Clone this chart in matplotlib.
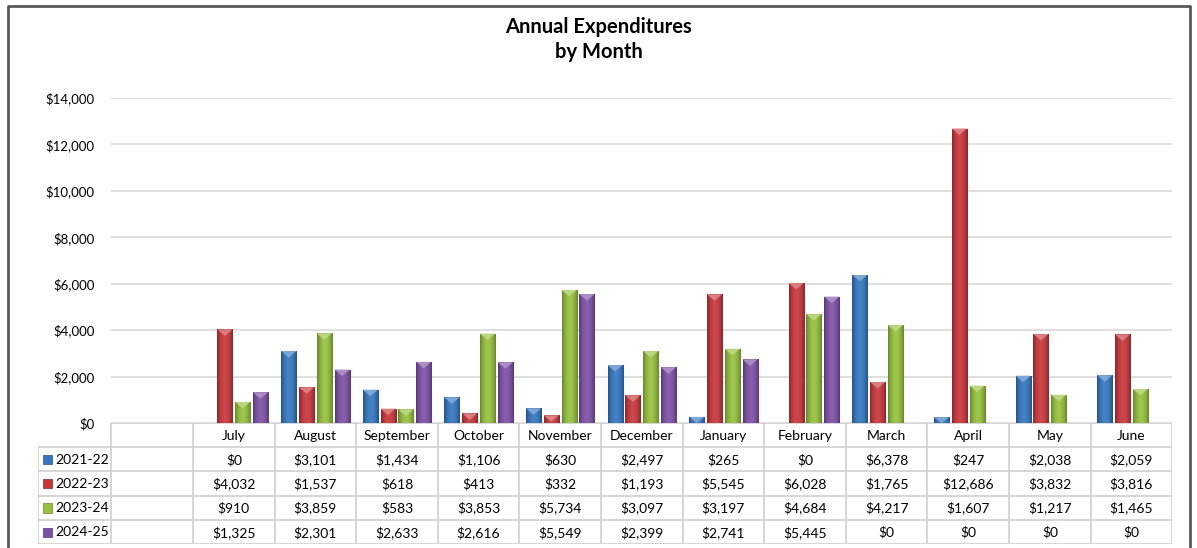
import numpy as np
import matplotlib
matplotlib.use('Agg')
import matplotlib.pyplot as plt
from matplotlib.colors import to_rgb
from matplotlib.patches import Polygon, Rectangle
from matplotlib.lines import Line2D

plt.rcParams['font.family'] = ['Lato', 'DejaVu Sans']

# data
months = ['July', 'August', 'September', 'October', 'November', 'December',
          'January', 'February', 'March', 'April', 'May', 'June']
years = ['2021-22', '2022-23', '2023-24', '2024-25']
fy21 = [0, 3101, 1434, 1106, 630, 2497, 265, 0, 6378, 247, 2038, 2059]
fy22 = [4032, 1537, 618, 413, 332, 1193, 5545, 6028, 1765, 12686, 3832, 3816]
fy23 = [910, 3859, 583, 3853, 5734, 3097, 3197, 4684, 4217, 1607, 1217, 1465]
fy24 = [1325, 2301, 2633, 2616, 5549, 2399, 2741, 5445, 0, 0, 0, 0]
series = [fy21, fy22, fy23, fy24]
colors = ['#3476c0', '#c8363a', '#95c03c', '#7d50a6']

W, H = 1197, 548
def fx(px): return px / W
def fy(py): return 1 - py / H

fig = plt.figure(figsize=(W / 100, H / 100), dpi=100)

col_w = 81.6
first_col = 193  # left edge of July column
left_main = -0.5 - (first_col - 111) / col_w
left_tab = -0.5 - (first_col - 38) / col_w
right_px = first_col + 12 * col_w
zero_y = 423
tab_bot = 544

ax = fig.add_axes([fx(111), fy(zero_y), fx(right_px) - fx(111), fy(98) - fy(zero_y)])

def mix(c, other, t):
    c = np.array(to_rgb(c)); o = np.array(to_rgb(other))
    return tuple(c * (1 - t) + o * t)

x = np.arange(len(months))
bw = 0.185
step = 0.218
tri = 280  # height of the bevel chevron, data units
for k, (vals, c) in enumerate(zip(series, colors)):
    pos = x + (k - 1.5) * step
    bars = ax.bar(pos, vals, width=bw, color=c, edgecolor=mix(c, 'black', 0.25),
                  linewidth=0.6, zorder=3)
    # horizontal shading to mimic the bevelled look
    t = np.linspace(-1, 1, 40)
    prof = np.abs(t) ** 2
    base = np.array(to_rgb(c))
    img = np.array([mix(c, 'black', 0.3 * p) for p in prof])
    img = np.clip(img + 0.08 * (1 - prof)[:, None] * (1 - base), 0, 1)[None, :, :]
    for b, v in zip(bars, vals):
        if v <= 0:
            continue
        x0 = b.get_x(); x1 = x0 + b.get_width()
        im = ax.imshow(img, extent=[x0, x1, 0, v], aspect='auto', zorder=3.5,
                       interpolation='bilinear')
        im.set_clip_path(b)
        d = min(tri, v)
        ax.add_patch(Polygon([[x0, v], [x1, v], [(x0 + x1) / 2, v - d]],
                             closed=True, facecolor=mix(c, 'white', 0.35),
                             edgecolor='none', zorder=4))

ax.set_xlim(left_main, 11.5)
ax.set_ylim(0, 14000)
ax.set_yticks(np.arange(0, 14001, 2000))
ax.set_yticklabels(['${:,.0f}'.format(v) for v in np.arange(0, 14001, 2000)],
                   fontsize=9.5)
ax.set_xticks([])
ax.tick_params(axis='y', length=0, pad=12)
ax.yaxis.grid(True, color='#d9d9d9', linewidth=1.2)
ax.set_axisbelow(True)
for s in ax.spines.values():
    s.set_visible(False)

# data table below the plot
tab = fig.add_axes([fx(38), fy(tab_bot), fx(right_px) - fx(38), fy(zero_y) - fy(tab_bot)])
tab.set_xlim(left_tab, 11.5)
tab.set_ylim(5, 0)
tab.axis('off')
lc = '#d0d0d0'
tab.add_line(Line2D([left_main, 11.5], [0, 0], color=lc, lw=1.2))
for r in range(1, 6):
    tab.add_line(Line2D([left_tab, 11.5], [r, r], color=lc, lw=1.2))
tab.add_line(Line2D([left_tab, left_tab], [1, 5], color=lc, lw=1.2))
tab.add_line(Line2D([left_main, left_main], [0, 5], color=lc, lw=1.2))
for i in range(13):
    tab.add_line(Line2D([i - 0.5, i - 0.5], [0, 5], color=lc, lw=1.2))
for i, m in enumerate(months):
    tab.text(i, 0.52, m, ha='center', va='center', fontsize=10)
for r, (yr, vals, c) in enumerate(zip(years, series, colors), start=1):
    tab.add_patch(Rectangle((left_tab + 0.06, r + 0.32), 0.11, 0.38,
                            facecolor=c, edgecolor=mix(c, 'black', 0.3), lw=0.5))
    tab.text(left_tab + 0.21, r + 0.52, yr, ha='left', va='center', fontsize=10)
    for i, v in enumerate(vals):
        tab.text(i, r + 0.52, '${:,.0f}'.format(v), ha='center', va='center',
                 fontsize=10)

fig.text(0.5, fy(27), 'Annual Expenditures', ha='center', va='center',
         fontsize=14.5, fontweight='bold')
fig.text(0.5, fy(52), 'by Month', ha='center', va='center',
         fontsize=14.5, fontweight='bold')

# chart frame
fig.add_artist(Line2D([fx(8), fx(8), fx(1190), fx(1190)],
                      [fy(H), fy(6), fy(6), fy(H)], color='#595959', lw=2))

fig.savefig('out.png', dpi=100)
